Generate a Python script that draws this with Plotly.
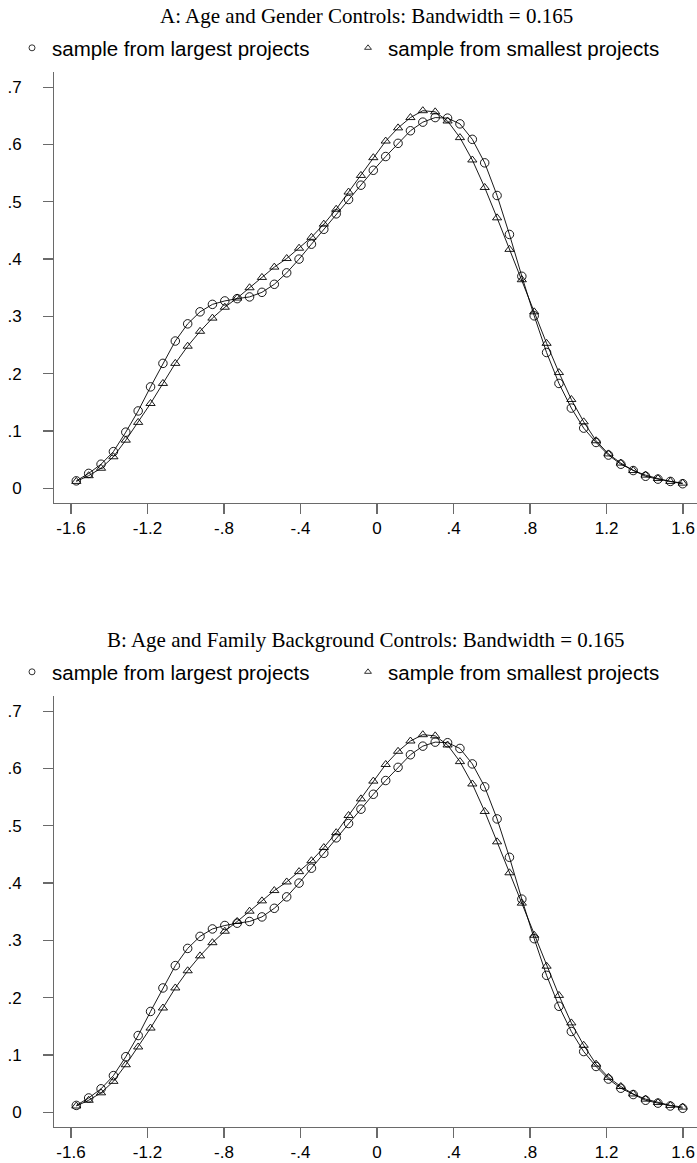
import plotly.graph_objects as go

# ---------------- data ----------------
x_start = -1.572
x_step = 0.0647
n_pts = 50
grid_x = [x_start + i * x_step for i in range(n_pts)]

a_largest = [0.013, 0.026, 0.042, 0.064, 0.098, 0.135, 0.177, 0.218, 0.257, 0.287,
             0.308, 0.321, 0.327, 0.331, 0.334, 0.342, 0.356, 0.376, 0.400, 0.426,
             0.452, 0.479, 0.504, 0.529, 0.555, 0.579, 0.602, 0.624, 0.639, 0.647,
             0.646, 0.636, 0.609, 0.568, 0.511, 0.443, 0.370, 0.301, 0.237, 0.183,
             0.140, 0.105, 0.080, 0.058, 0.042, 0.031, 0.021, 0.016, 0.012, 0.008]
a_smallest = [0.012, 0.022, 0.035, 0.055, 0.084, 0.115, 0.148, 0.183, 0.218, 0.248,
              0.274, 0.297, 0.316, 0.332, 0.350, 0.368, 0.386, 0.401, 0.419, 0.438,
              0.461, 0.487, 0.517, 0.546, 0.577, 0.606, 0.629, 0.647, 0.659, 0.657,
              0.641, 0.612, 0.573, 0.525, 0.472, 0.417, 0.364, 0.308, 0.253, 0.202,
              0.155, 0.116, 0.083, 0.060, 0.044, 0.031, 0.023, 0.017, 0.012, 0.009]
b_largest = [0.012, 0.025, 0.041, 0.064, 0.097, 0.134, 0.176, 0.217, 0.256, 0.286,
             0.307, 0.320, 0.326, 0.330, 0.333, 0.341, 0.356, 0.376, 0.400, 0.426,
             0.452, 0.479, 0.504, 0.529, 0.555, 0.579, 0.602, 0.624, 0.639, 0.646,
             0.645, 0.635, 0.608, 0.568, 0.512, 0.445, 0.372, 0.303, 0.239, 0.185,
             0.141, 0.106, 0.080, 0.058, 0.042, 0.031, 0.021, 0.016, 0.011, 0.007]
b_smallest = [0.011, 0.021, 0.034, 0.054, 0.083, 0.114, 0.147, 0.182, 0.217, 0.247,
              0.273, 0.296, 0.316, 0.333, 0.351, 0.369, 0.387, 0.402, 0.420, 0.439,
              0.462, 0.488, 0.518, 0.547, 0.578, 0.607, 0.630, 0.648, 0.659, 0.657,
              0.641, 0.612, 0.573, 0.525, 0.472, 0.418, 0.365, 0.309, 0.255, 0.204,
              0.156, 0.117, 0.084, 0.061, 0.045, 0.032, 0.023, 0.017, 0.012, 0.009]

x_ticks = [-1.6, -1.2, -0.8, -0.4, 0, 0.4, 0.8, 1.2, 1.6]
x_ticklabels = ["-1.6", "-1.2", "-.8", "-.4", "0", ".4", ".8", "1.2", "1.6"]
y_ticks = [0, 0.1, 0.2, 0.3, 0.4, 0.5, 0.6, 0.7]
y_ticklabels = ["0", ".1", ".2", ".3", ".4", ".5", ".6", ".7"]

titles = ["A: Age and Gender Controls: Bandwidth = 0.165",
          "B: Age and Family Background Controls: Bandwidth = 0.165"]
series_names = ["sample from largest projects", "sample from smallest projects"]

# ---------------- layout geometry (pixels) ----------------
W, H = 697, 1163
plot_left = 54.3
panel_offset = 624
y0_px = 488.3          # pixel row of y = 0 in panel A
px_per_unit_y = 573.0
y_top_px = 71.7
y_bot_px = 502.7
x_left_val = -1.687
x_right_val = 1.673
title_y = 16
title_x = 366
legend_y = 48
legend_x = [12, 348]

fig = go.Figure()

legend_ids = [["legend", "legend2"], ["legend3", "legend4"]]
panels = [(a_largest, a_smallest), (b_largest, b_smallest)]
for p, (lg, sm) in enumerate(panels):
    xa = "x" if p == 0 else "x2"
    ya = "y" if p == 0 else "y2"
    for k, (vals, sym, size) in enumerate([(lg, "circle-open", 8.5),
                                           (sm, "triangle-up-open", 8)]):
        fig.add_trace(go.Scatter(x=grid_x, y=vals, mode="lines+markers",
                                 line=dict(color="black", width=0.9),
                                 marker=dict(symbol=sym, size=size, color="black",
                                             line=dict(width=0.9, color="black")),
                                 xaxis=xa, yaxis=ya, showlegend=False))
        fig.add_trace(go.Scatter(x=[None], y=[None], mode="markers", name=series_names[k],
                                 marker=dict(symbol=sym, size=6, color="black",
                                             line=dict(width=0.8, color="black")),
                                 xaxis=xa, yaxis=ya, showlegend=True,
                                 legend=legend_ids[p][k]))

axis_common = dict(showgrid=False, zeroline=False, showline=True, linecolor="#6a6a6a",
                   linewidth=1.3, ticks="outside", tickcolor="#6a6a6a", tickwidth=1.3,
                   ticklen=10,
                   tickfont=dict(family="Liberation Sans, Arial", size=17, color="black"))

for p in range(2):
    off = p * panel_offset
    top = y_top_px + off
    bot = y_bot_px + off
    ymax = (y0_px - y_top_px) / px_per_unit_y
    ymin = (y0_px - y_bot_px) / px_per_unit_y
    ydom = [1 - bot / H, 1 - top / H]
    xkey = "xaxis" if p == 0 else "xaxis2"
    ykey = "yaxis" if p == 0 else "yaxis2"
    fig.update_layout(**{
        xkey: dict(axis_common, domain=[plot_left / W, 1], range=[x_left_val, x_right_val],
                   tickvals=x_ticks, ticktext=x_ticklabels, ticklabeloverflow="allow",
                   anchor="y" if p == 0 else "y2"),
        ykey: dict(axis_common, domain=ydom, range=[ymin, ymax],
                   tickvals=y_ticks, ticktext=y_ticklabels, ticklabelstandoff=18,
                   anchor="x" if p == 0 else "x2"),
    })
    fig.add_annotation(text=titles[p], x=title_x / W, y=1 - (title_y + off) / H,
                       xref="paper", yref="paper",
                       showarrow=False, xanchor="center", yanchor="middle",
                       font=dict(family="Liberation Serif, Times New Roman", size=21, color="black"))

legend_common = dict(orientation="h", xanchor="left", yanchor="middle", bgcolor="rgba(0,0,0,0)",
                     font=dict(family="Liberation Sans, Arial", size=20.5, color="black"),
                     itemwidth=30, borderwidth=0)
for p in range(2):
    for k in range(2):
        fig.update_layout(**{legend_ids[p][k]: dict(legend_common, x=legend_x[k] / W,
                                                    y=1 - (legend_y + p * panel_offset) / H)})

fig.update_layout(width=W, height=H, margin=dict(l=0, r=0, t=0, b=0),
                  paper_bgcolor="white", plot_bgcolor="white", hovermode=False)

fig.write_html("out.html", config={"displayModeBar": False, "staticPlot": True},
               post_script="document.body.style.margin='0px';document.body.style.overflow='hidden';")
